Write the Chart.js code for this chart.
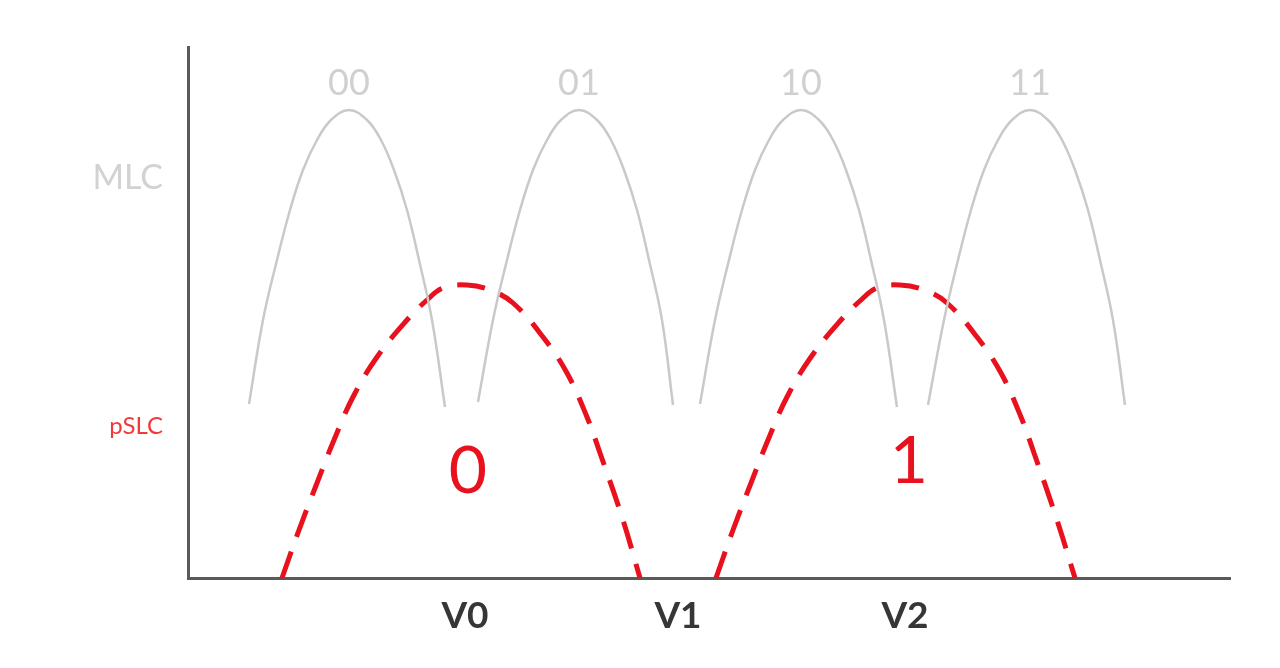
<!DOCTYPE html>
<html>
<head>
<meta charset="utf-8">
<script src="https://cdn.jsdelivr.net/npm/chart.js@4/dist/chart.umd.min.js"></script>
<style>
  html, body { margin: 0; padding: 0; background: #ffffff; }
  #wrap { width: 1280px; height: 668px; }
</style>
</head>
<body>
<div id="wrap"><canvas id="cellChart"></canvas></div>
<script>
// ==========================
// MLC vs pSLC threshold voltage distributions
// ==========================

// gray MLC states (x = threshold voltage, y = cell count)
const mlc00X = [61, 75, 89, 102, 115, 129, 143, 161, 179, 193, 206, 219, 231, 244, 257];
const mlc00Y = [174, 258, 318, 368, 408, 438, 458, 468, 458, 438, 408, 368, 318, 258, 171];

const mlc01X = [290, 305, 319, 332, 345, 359, 373, 391, 409, 423, 436, 449, 461, 474, 485];
const mlc01Y = [176, 258, 318, 368, 408, 438, 458, 468, 458, 438, 408, 368, 318, 258, 173];

const mlc10X = [512, 527, 541, 554, 567, 581, 595, 613, 631, 645, 658, 671, 683, 696, 709];
const mlc10Y = [174, 258, 318, 368, 408, 438, 458, 468, 458, 438, 408, 368, 318, 258, 171];

const mlc11X = [740, 756, 770, 783, 796, 810, 824, 842, 860, 874, 887, 900, 912, 925, 937];
const mlc11Y = [173, 258, 318, 368, 408, 438, 458, 468, 458, 438, 408, 368, 318, 258, 173];

// red pSLC states
const pslc0X = [94, 111, 129, 146, 165, 189, 219, 239, 255, 279, 302, 325, 355, 379, 399, 412, 434, 452];
const pslc0Y = [0, 48, 95, 138, 181, 221, 258, 278, 290, 293, 288, 275, 241, 205, 161, 125, 61, 0];

const pslc1X = [528, 545, 563, 580, 599, 623, 653, 673, 689, 712, 736, 759, 789, 813, 833, 846, 868, 887];
const pslc1Y = [0, 48, 95, 138, 181, 221, 258, 278, 290, 293, 288, 275, 241, 205, 161, 125, 61, 0];

// labels
const mlcStates = ["00", "01", "10", "11"];
const mlcStateX = [161, 391, 613, 842];
const mlcStateY = 495;

const pslcStates = ["0", "1"];
const pslcStateX = [280, 721];
const pslcStateY = [106, 116];

const voltTicks = [277, 490, 717];
const voltLabels = ["V0", "V1", "V2"];

const levelTicks = [400, 152];
const levelLabels = ["MLC", "pSLC"];

const GRAY = "#c9c9c9";
const RED = "#e8111d";
const FONT = "Lato";


function toPoints(xs, ys) {
    return xs.map((x, i) => ({ x: x, y: ys[i] }));
}

function curve(xs, ys, color, dashed) {
    return {
        data: toPoints(xs, ys),
        showLine: true,
        borderColor: color,
        borderWidth: dashed ? 5 : 2.5,
        borderDash: dashed ? [28, 16] : [],
        borderCapStyle: "butt",
        pointRadius: 0,
        tension: 0.4,
        clip: false
    };
}


const annotate = {
    id: "annotate",
    afterDatasetsDraw(chart) {
        const { ctx, scales: { x, y } } = chart;
        ctx.save();
        ctx.textAlign = "center";
        ctx.textBaseline = "middle";

        ctx.font = "36px " + FONT;
        ctx.fillStyle = "#d0d0d0";
        mlcStates.forEach((t, i) => {
            ctx.fillText(t, x.getPixelForValue(mlcStateX[i]), y.getPixelForValue(mlcStateY));
        });

        ctx.font = "66px " + FONT;
        ctx.fillStyle = RED;
        pslcStates.forEach((t, i) => {
            ctx.fillText(t, x.getPixelForValue(pslcStateX[i]), y.getPixelForValue(pslcStateY[i]));
        });

        ctx.restore();
    }
};


new Chart(document.querySelector("#cellChart"), {

    type: "scatter",

    data: {
        datasets: [
            curve(mlc00X, mlc00Y, GRAY, false),
            curve(mlc01X, mlc01Y, GRAY, false),
            curve(mlc10X, mlc10Y, GRAY, false),
            curve(mlc11X, mlc11Y, GRAY, false),
            curve(pslc0X, pslc0Y, RED, true),
            curve(pslc1X, pslc1Y, RED, true)
        ]
    },

    options: {
        responsive: true,
        maintainAspectRatio: false,
        animation: false,
        layout: {
            padding: { top: 47, right: 50, left: 0, bottom: 0 }
        },
        plugins: {
            legend: { display: false },
            tooltip: { enabled: false }
        },
        scales: {
            x: {
                type: "linear",
                min: 0,
                max: 1042,
                grid: { display: false, drawTicks: false },
                border: { display: true, color: "#5a5a5a", width: 3 },
                afterBuildTicks: (scale) => {
                    scale.ticks = voltTicks.map(v => ({ value: v }));
                },
                afterFit: (scale) => { scale.height = 90; },
                ticks: {
                    padding: 16,
                    color: "#363636",
                    font: { family: FONT, size: 37, weight: "bold" },
                    callback: (value, index) => voltLabels[index]
                }
            },
            y: {
                type: "linear",
                min: 0,
                max: 531,
                grid: { display: false, drawTicks: false },
                border: { display: true, color: "#5a5a5a", width: 3 },
                afterBuildTicks: (scale) => {
                    scale.ticks = levelTicks.map(v => ({ value: v }));
                },
                afterFit: (scale) => { scale.width = 188; },
                ticks: {
                    padding: 25,
                    color: (c) => c.index === 0 ? "#d2d2d2" : "#f03a3a",
                    font: (c) => c.index === 0
                        ? { family: FONT, size: 34 }
                        : { family: FONT, size: 24 },
                    callback: (value, index) => levelLabels[index]
                }
            }
        }
    },

    plugins: [annotate]

});
</script>
</body>
</html>
